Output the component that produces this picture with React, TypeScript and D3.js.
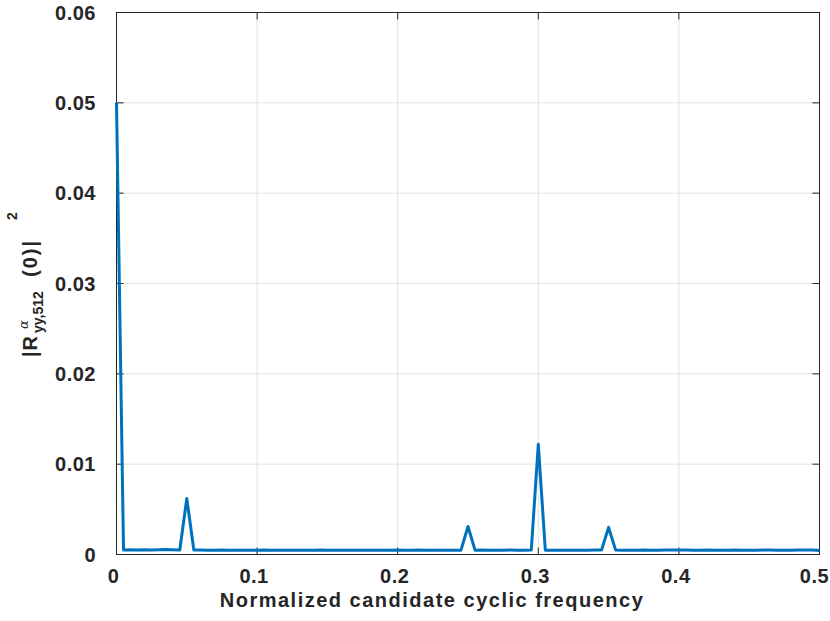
import React from "react";
import * as d3 from "d3";

const W = 830;
const H = 621;

// Normalized candidate cyclic frequency: 0 to 0.5 step 0.005 (101 points)
const alphaStep = 0.005;
const magnitudes: number[] = [
  0.05, 0.00050, 0.00052, 0.00051, 0.00052, 0.00051, 0.00053, 0.00054, 0.00052, 0.00050,
  0.0062, 0.00049, 0.00050, 0.00048, 0.00047, 0.00049, 0.00047, 0.00048, 0.00046, 0.00048,
  0.00047, 0.00049, 0.00046, 0.00047, 0.00048, 0.00046, 0.00047, 0.00048, 0.00047, 0.00049,
  0.00047, 0.00046, 0.00048, 0.00047, 0.00046, 0.00047, 0.00048, 0.00047, 0.00046, 0.00048,
  0.00049, 0.00047, 0.00048, 0.00050, 0.00047, 0.00048, 0.00047, 0.00048, 0.00047, 0.00048,
  0.0031, 0.00048, 0.00049, 0.00048, 0.00047, 0.00048, 0.00049, 0.00048, 0.00048, 0.00049,
  0.0122, 0.00047, 0.00047, 0.00046, 0.00047, 0.00046, 0.00048, 0.00047, 0.00049, 0.00050,
  0.0030, 0.00049, 0.00047, 0.00046, 0.00048, 0.00049, 0.00047, 0.00048, 0.00050, 0.00051,
  0.00050, 0.00049, 0.00047, 0.00048, 0.00049, 0.00048, 0.00047, 0.00048, 0.00049, 0.00048,
  0.00047, 0.00048, 0.00049, 0.00050, 0.00048, 0.00047, 0.00048, 0.00049, 0.00050, 0.00051,
  0.00045,
];

const xTicks = [0, 0.1, 0.2, 0.3, 0.4, 0.5];
const xTickLabels = ["0", "0.1", "0.2", "0.3", "0.4", "0.5"];
const yTicks = [0, 0.01, 0.02, 0.03, 0.04, 0.05, 0.06];
const yTickLabels = ["0", "0.01", "0.02", "0.03", "0.04", "0.05", "0.06"];
const xLabel = "Normalized candidate cyclic frequency";

const FONT = "'Liberation Sans', Arial, Helvetica, sans-serif";
const TEXT = "#262626";
const AXIS = "#262626";
const GRID = "#e1e1e1";
const LINE = "#0072BD";

export default function App() {
  const L = 116.5, R = 819.5, T = 12.5, B = 554.5;
  const x = d3.scaleLinear().domain([0, 0.5]).range([L, R]);
  const y = d3.scaleLinear().domain([0, 0.06]).range([B, T]);
  const pts: [number, number][] = magnitudes.map((v, i) => [i * alphaStep, v]);
  const line = d3
    .line<[number, number]>()
    .x((d) => x(d[0]))
    .y((d) => y(d[1]));
  const tickLen = 7;

  return (
    <svg
      width={W}
      height={H}
      style={{ position: "absolute", left: 0, top: 0, background: "#fff" }}
    >
      <rect x={0} y={0} width={W} height={H} fill="#fff" />
      {/* grid */}
      {xTicks.map((t, i) => (
        <line key={"gx" + i} x1={x(t)} x2={x(t)} y1={T} y2={B} stroke={GRID} strokeWidth={1} />
      ))}
      {yTicks.map((t, i) => (
        <line key={"gy" + i} x1={L} x2={R} y1={y(t)} y2={y(t)} stroke={GRID} strokeWidth={1} />
      ))}
      {/* box */}
      <rect x={L} y={T} width={R - L} height={B - T} fill="none" stroke={AXIS} strokeWidth={1} />
      {/* ticks */}
      {xTicks.map((t, i) => (
        <g key={"tx" + i}>
          <line x1={x(t)} x2={x(t)} y1={B} y2={B - tickLen} stroke={AXIS} />
          <line x1={x(t)} x2={x(t)} y1={T} y2={T + tickLen} stroke={AXIS} />
        </g>
      ))}
      {yTicks.map((t, i) => (
        <g key={"ty" + i}>
          <line x1={L} x2={L + tickLen} y1={y(t)} y2={y(t)} stroke={AXIS} />
          <line x1={R} x2={R - tickLen} y1={y(t)} y2={y(t)} stroke={AXIS} />
        </g>
      ))}
      {/* data line */}
      <path
        d={line(pts) || ""}
        fill="none"
        stroke={LINE}
        strokeWidth={3}
        strokeLinejoin="round"
      />
      {/* x tick labels */}
      {xTicks.map((t, i) => (
        <text
          key={"lx" + i}
          x={x(t) - (i === xTicks.length - 1 ? 5 : 3)}
          y={583}
          textAnchor="middle"
          fontFamily={FONT}
          fontWeight="bold"
          fontSize={20}
          letterSpacing={0.5}
          fill={TEXT}
        >
          {xTickLabels[i]}
        </text>
      ))}
      {/* y tick labels */}
      {yTicks.map((t, i) => (
        <text
          key={"ly" + i}
          x={96}
          y={y(t) + 7}
          textAnchor="end"
          fontFamily={FONT}
          fontWeight="bold"
          fontSize={20}
          letterSpacing={0.5}
          fill={TEXT}
        >
          {yTickLabels[i]}
        </text>
      ))}
      {/* x label */}
      <text
        x={432}
        y={607}
        textAnchor="middle"
        fontFamily={FONT}
        fontWeight="bold"
        fontSize={20}
        letterSpacing={1.5}
        fill={TEXT}
      >
        {xLabel}
      </text>
      {/* y label */}
      <g transform="translate(37,357) rotate(-90)" fontFamily={FONT} fontWeight="bold" fill={TEXT}>
        <text x={0} y={0} fontSize={20} letterSpacing={1}>|R</text>
        <text x={28} y={-9} fontSize={13} fontStyle="italic" fontWeight="normal" fontFamily="'DejaVu Serif', 'Liberation Serif', serif">α</text>
        <text x={24} y={6} fontSize={14}>yy,512</text>
        <text x={80} y={0} fontSize={20} letterSpacing={2}>(0)|</text>
        <text x={137} y={-20} fontSize={14}>2</text>
      </g>
    </svg>
  );
}
